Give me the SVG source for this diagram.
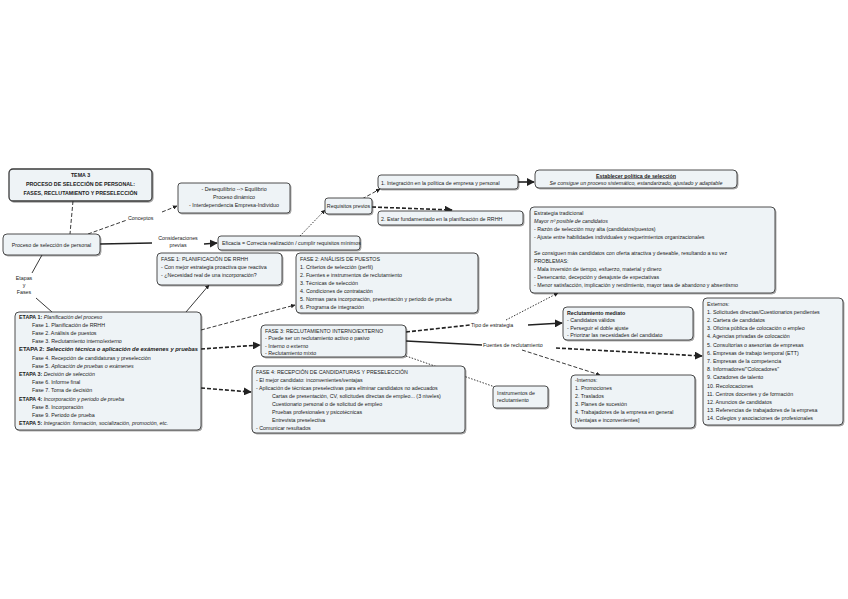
<svg xmlns="http://www.w3.org/2000/svg" width="848" height="599" viewBox="0 0 848 599">
<defs>
<marker id="ah" viewBox="0 0 10 10" refX="9" refY="5" markerWidth="5" markerHeight="5" orient="auto"><path d="M0,0 L10,5 L0,10 z" fill="#222"/></marker>
<filter id="sh" x="-5%" y="-5%" width="110%" height="115%"><feDropShadow dx="1" dy="1" stdDeviation="0.6" flood-color="#000" flood-opacity="0.35"/></filter>
</defs>
<style>
.box{fill:#eef3f6;stroke:#3a3a3a;stroke-width:0.9;filter:url(#sh)}
.t{font-family:"Liberation Sans",Arial,sans-serif;fill:#1a1a1a;font-size:5.3px}
.b{font-weight:bold}
.i{font-style:italic}
.c{text-anchor:middle}
.ln{fill:none;stroke:#222;stroke-width:0.9}
.d{stroke-dasharray:4 2}
.o{stroke-dasharray:1.5 1.5}
.th{stroke-width:1.6}
</style>
<rect width="848" height="599" fill="#ffffff"/>
<g id="connectors">
<path class="ln d" d="M73,201 L70,234"/>
<path class="ln d" d="M88,234 L127,220"/>
<path class="ln d" d="M162,212 L177,206" marker-end="url(#ah)"/>
<path class="ln th" d="M100,244 L152,243"/>
<path class="ln th" d="M204,244 L217,243" marker-end="url(#ah)"/>
<path class="ln o" d="M300,236 L325,210" marker-end="url(#ah)"/>
<path class="ln d" d="M362,199 L380,189" marker-end="url(#ah)"/>
<path class="ln d th" d="M372,207 L452,210" marker-end="url(#ah)"/>
<path class="ln th" d="M518,182 L534,182" marker-end="url(#ah)"/>
<path class="ln" d="M42,255 L32,273"/>
<path class="ln" d="M36,298 L52,312"/>
<path class="ln" d="M186,312 L209,285" marker-end="url(#ah)"/>
<path class="ln d" d="M201,330 L295,305" marker-end="url(#ah)"/>
<path class="ln d th" d="M201,349 L260,345" marker-end="url(#ah)"/>
<path class="ln d th" d="M201,388 L251,392" marker-end="url(#ah)"/>
<path class="ln d th" d="M406,332 L470,325"/>
<path class="ln th" d="M528,325 L562,323" marker-end="url(#ah)"/>
<path class="ln o" d="M506,320 L558,293" marker-end="url(#ah)"/>
<path class="ln th" d="M406,341 L482,345"/>
<path class="ln d th" d="M556,348 L702,356" marker-end="url(#ah)"/>
<path class="ln d" d="M522,350 L600,375" marker-end="url(#ah)"/>
<path class="ln o" d="M406,356 L495,387"/>
</g>
<g id="labels">
<text class="t" x="128" y="220">Conceptos</text>
<text class="t c" x="178" y="240">Consideraciones</text>
<text class="t c" x="178" y="247">previas</text>
<text class="t c" x="24" y="280" font-size="5">Etapas</text>
<text class="t c" x="24" y="287" font-size="5">y</text>
<text class="t c" x="24" y="294" font-size="5">Fases</text>
<text class="t" x="471" y="327">Tipo de estrategia</text>
<text class="t" x="483" y="347">Fuentes de reclutamiento</text>
</g>
<g id="title">
<rect class="box" x="9" y="169" width="143" height="32" rx="4" style="stroke-width:1.3"/>
<text class="t b c" x="80.5" y="177" font-size="5.8">TEMA 3</text>
<text class="t b c" x="80.5" y="186" font-size="5.8">PROCESO DE SELECCIÓN DE PERSONAL:</text>
<text class="t b c" x="80.5" y="195" font-size="5.8">FASES, RECLUTAMIENTO Y PRESELECCIÓN</text>
</g>
<g id="proceso">
<rect class="box" x="3" y="234" width="97" height="21" rx="4"/>
<text class="t c" x="51.5" y="246.5" font-size="5">Proceso de selección de personal</text>
</g>
<g id="conceptos">
<rect class="box" x="178" y="183" width="112" height="30" rx="3"/>
<text class="t c" x="234" y="191">- Desequilibrio --&gt; Equilibrio</text>
<text class="t c" x="234" y="199">Proceso dinámico</text>
<text class="t c" x="234" y="207">- Interdependencia Empresa-Individuo</text>
</g>
<g id="eficacia">
<rect class="box" x="218" y="236" width="142" height="14" rx="3"/>
<text class="t" x="222" y="245" font-size="4.6">Eficacia = Correcta realización / cumplir requisitos mínimos</text>
</g>
<g id="requisitos">
<rect class="box" x="325" y="198" width="47" height="16" rx="3"/>
<text class="t c" x="348.5" y="207.5" font-size="4.5">Requisitos previos</text>
</g>
<g id="req1">
<rect class="box" x="378" y="175" width="140" height="14" rx="3"/>
<text class="t" x="381" y="184.5" font-size="5">1. Integración en la política de empresa y personal</text>
</g>
<g id="req2">
<rect class="box" x="378" y="211" width="145" height="14" rx="3"/>
<text class="t" x="381" y="220.5" font-size="5">2. Estar fundamentado en la planificación de RRHH</text>
</g>
<g id="politica">
<rect class="box" x="535" y="170" width="202" height="18" rx="4"/>
<text class="t b c" x="636" y="177.5" font-size="5" text-decoration="underline">Establecer política de selección</text>
<text class="t i c" x="636" y="185" font-size="4.8">Se consigue un proceso sistemático, estandarizado, ajustado y adaptable</text>
</g>
<g id="estrategia">
<rect class="box" x="530" y="207" width="245" height="86" rx="4"/>
<text class="t" x="534" y="215" font-size="5.4">Estrategia tradicional</text>
<text class="t i" x="534" y="223" font-size="5.4">Mayor nº posible de candidatos</text>
<text class="t" x="534" y="231" font-size="5.4">- Razón de selección muy alta (candidatos/puestos)</text>
<text class="t" x="534" y="239" font-size="5.4">- Ajuste entre habilidades individuales y requerimientos organizacionales</text>
<text class="t" x="534" y="255" font-size="5.4">Se consiguen más candidatos con oferta atractiva y deseable, resultando a su vez</text>
<text class="t" x="534" y="263" font-size="5.4">PROBLEMAS:</text>
<text class="t" x="534" y="271" font-size="5.4">- Mala inversión de tiempo, esfuerzo, material y dinero</text>
<text class="t" x="534" y="279" font-size="5.4">- Desencanto, decepción y desajuste de expectativas</text>
<text class="t" x="534" y="287" font-size="5.4">- Menor satisfacción, implicación y rendimiento, mayor tasa de abandono y absentismo</text>
</g>
<g id="fase1">
<rect class="box" x="157" y="253" width="125" height="32" rx="4"/>
<text class="t" x="161" y="261" font-size="5.5">FASE 1: PLANIFICACIÓN DE RRHH</text>
<text class="t" x="161" y="269" font-size="5.3">- Con mejor estrategia proactiva que reactiva</text>
<text class="t" x="161" y="277" font-size="5.3">- ¿Necesidad real de una incorporación?</text>
</g>
<g id="fase2">
<rect class="box" x="296" y="253" width="182" height="60" rx="4"/>
<text class="t" x="300" y="261" font-size="5.5">FASE 2: ANÁLISIS DE PUESTOS</text>
<text class="t" x="300" y="269" font-size="5.4">1. Criterios de selección (perfil)</text>
<text class="t" x="300" y="277" font-size="5.4">2. Fuentes e instrumentos de reclutamiento</text>
<text class="t" x="300" y="285" font-size="5.4">3. Técnicas de selección</text>
<text class="t" x="300" y="293" font-size="5.4">4. Condiciones de contratación</text>
<text class="t" x="300" y="301" font-size="5.4">5. Normas para incorporación, presentación y periodo de prueba</text>
<text class="t" x="300" y="309" font-size="5.4">6. Programa de integración</text>
</g>
<g id="etapas">
<rect class="box" x="15" y="312" width="186" height="118" rx="4"/>
<text class="t" x="19" y="318.5"><tspan class="b">ETAPA 1: </tspan><tspan class="i">Planificación del proceso</tspan></text>
<text class="t" x="32" y="326.7" font-size="5">Fase 1. Planificación de RRHH</text>
<text class="t" x="32" y="334.9" font-size="5">Fase 2. Análisis de puestos</text>
<text class="t" x="32" y="343.1" font-size="5">Fase 3. Reclutamiento interno/externo</text>
<text class="t b" x="19" y="351.3" textLength="179" lengthAdjust="spacingAndGlyphs">ETAPA 2: <tspan class="i">Selección técnica o aplicación de exámenes y pruebas</tspan></text>
<text class="t" x="32" y="359.5" font-size="5">Fase 4. Recepción de candidaturas y preselección</text>
<text class="t" x="32" y="367.7" font-size="5">Fase 5. <tspan class="i">Aplicación de pruebas o exámenes</tspan></text>
<text class="t" x="19" y="375.9"><tspan class="b">ETAPA 3: </tspan><tspan class="i">Decisión de selección</tspan></text>
<text class="t" x="32" y="384.1" font-size="5">Fase 6. Informe final</text>
<text class="t" x="32" y="392.3" font-size="5">Fase 7. Toma de decisión</text>
<text class="t" x="19" y="400.5"><tspan class="b">ETAPA 4: </tspan><tspan class="i">Incorporación y periodo de prueba</tspan></text>
<text class="t" x="32" y="408.7" font-size="5">Fase 8. Incorporación</text>
<text class="t" x="32" y="416.9" font-size="5">Fase 9. Periodo de prueba</text>
<text class="t" x="19" y="425.1"><tspan class="b">ETAPA 5: </tspan><tspan class="i">Integración: formación, socialización, promoción, etc.</tspan></text>
</g>
<g id="fase3">
<rect class="box" x="261" y="325" width="145" height="32" rx="4"/>
<text class="t" x="265" y="332.5">FASE 3: RECLUTAMIENTO INTERNO/EXTERNO</text>
<text class="t" x="265" y="340">- Puede ser un reclutamiento activo o pasivo</text>
<text class="t" x="265" y="347.5">- Interno o externo</text>
<text class="t" x="265" y="355">- Reclutamiento mixto</text>
</g>
<g id="fase4">
<rect class="box" x="252" y="366" width="213" height="67" rx="4"/>
<text class="t" x="256" y="373.5" font-size="5.5">FASE 4: RECEPCIÓN DE CANDIDATURAS Y PRESELECCIÓN</text>
<text class="t" x="256" y="381.5">- El mejor candidato: inconvenientes/ventajas</text>
<text class="t" x="256" y="389.5">- Aplicación de técnicas preselectivas para eliminar candidatos no adecuados</text>
<text class="t" x="272" y="397.5">Cartas de presentación, CV, solicitudes directas de empleo... (3 niveles)</text>
<text class="t" x="272" y="405.5">Cuestionario personal o de solicitud de empleo</text>
<text class="t" x="272" y="413.5">Pruebas profesionales y psicotécnicas</text>
<text class="t" x="272" y="421.5">Entrevista preselectiva</text>
<text class="t" x="256" y="429.5">- Comunicar resultados</text>
</g>
<g id="mediato">
<rect class="box" x="563" y="307" width="130" height="33" rx="4"/>
<text class="t b" x="567" y="314.5">Reclutamiento mediato</text>
<text class="t" x="567" y="322">- Candidatos válidos</text>
<text class="t" x="567" y="329.5">- Perseguir el doble ajuste</text>
<text class="t" x="567" y="337">- Priorizar las necesidades del candidato</text>
</g>
<g id="internos">
<rect class="box" x="571" y="375" width="124" height="53" rx="4"/>
<text class="t" x="575" y="382">-Internos:</text>
<text class="t" x="575" y="390">1. Promociones</text>
<text class="t" x="575" y="398">2. Traslados</text>
<text class="t" x="575" y="406">3. Planes de sucesión</text>
<text class="t" x="575" y="414">4. Trabajadores de la empresa en general</text>
<text class="t" x="575" y="422">[Ventajas e inconvenientes]</text>
</g>
<g id="instrumentos">
<rect class="box" x="493" y="386" width="55" height="22" rx="3"/>
<text class="t" x="497" y="395" font-size="5">Instrumentos de</text>
<text class="t" x="497" y="402" font-size="5">reclutamiento</text>
</g>
<g id="externos">
<rect class="box" x="703" y="298" width="140" height="127" rx="4"/>
<text class="t" x="707" y="305.5">Externos:</text>
<text class="t" x="707" y="313.7">1. Solicitudes directas/Cuestionarios pendientes</text>
<text class="t" x="707" y="321.9">2. Cartera de candidatos</text>
<text class="t" x="707" y="330.1">3. Oficina pública de colocación o empleo</text>
<text class="t" x="707" y="338.3">4. Agencias privadas de colocación</text>
<text class="t" x="707" y="346.5">5. Consultorías o asesorías de empresas</text>
<text class="t" x="707" y="354.7">6. Empresas de trabajo temporal (ETT)</text>
<text class="t" x="707" y="362.9">7. Empresas de la competencia</text>
<text class="t" x="707" y="371.1">8. Informadores/"Colocadores"</text>
<text class="t" x="707" y="379.3">9. Cazadores de talento</text>
<text class="t" x="707" y="387.5">10. Recolocaciones</text>
<text class="t" x="707" y="395.7">11. Centros docentes y de formación</text>
<text class="t" x="707" y="403.9">12. Anuncios de candidatos</text>
<text class="t" x="707" y="412.1">13. Referencias de trabajadores de la empresa</text>
<text class="t" x="707" y="420.3">14. Colegios y asociaciones de profesionales</text>
</g>
</svg>
